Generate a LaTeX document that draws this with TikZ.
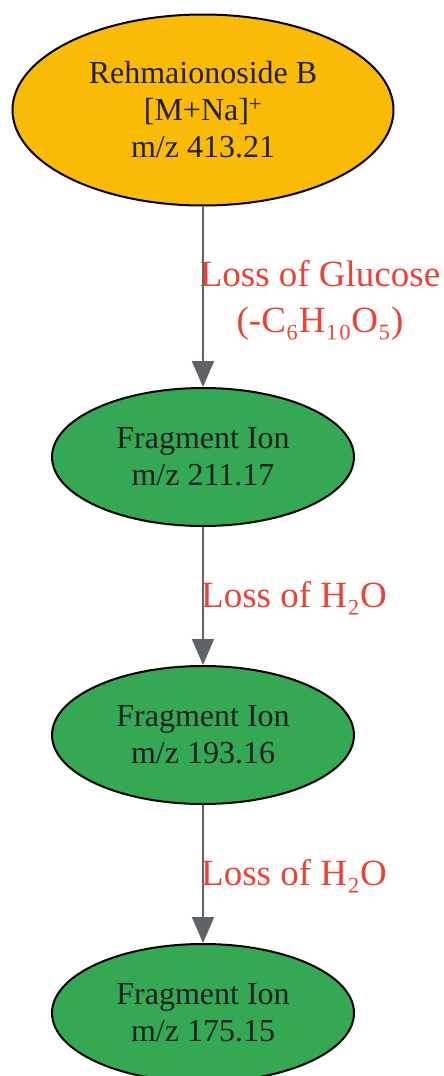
\documentclass[tikz,border=0pt]{standalone}
\usepackage{fontspec}
\setmainfont{Liberation Serif}
\usetikzlibrary{shapes.geometric,arrows.meta}
\definecolor{gold}{HTML}{F9BB06}
\definecolor{ggreen}{HTML}{34A853}
\definecolor{gred}{HTML}{EA4335}
\definecolor{ggray}{HTML}{5F6368}
\definecolor{gtext}{HTML}{202124}
\tikzset{
  ion/.style={ellipse, draw=black, line width=2pt, inner sep=0pt, text=gtext, align=center, font=\fontsize{32}{37}\selectfont},
  parention/.style={ion, fill=gold, minimum width=381pt, minimum height=191pt},
  fragion/.style={ion, fill=ggreen, minimum width=302pt, minimum height=138pt},
  lossarrow/.style={draw=ggray, line width=2pt, -{Triangle[length=26pt,width=22pt]}},
  losslabel/.style={text=gred, align=center, font=\fontsize{37}{46}\selectfont, inner sep=0pt},
}
\begin{document}
\begin{tikzpicture}[x=1pt,y=1pt]
\useasboundingbox (0,0) rectangle (444,-1076);
\node[parention] (p) at (203,-110) {Rehmaionoside B\\{}[M+Na]\textsuperscript{+}\\m/z 413.21};
\node[fragion] (f1) at (203,-457) {Fragment Ion\\m/z 211.17};
\node[fragion] (f2) at (203,-735) {Fragment Ion\\m/z 193.16};
\node[fragion] (f3) at (203,-1013) {Fragment Ion\\m/z 175.15};
\draw[lossarrow] (p.south) -- (f1.north);
\draw[lossarrow] (f1.south) -- (f2.north);
\draw[lossarrow] (f2.south) -- (f3.north);
\node[losslabel] (l1) at (320,-300) {Loss of Glucose\\(-C₆H₁₀O₅)};
\node[losslabel] (l2) at (294,-598) {Loss of H₂O};
\node[losslabel] (l3) at (294,-876) {Loss of H₂O};
\end{tikzpicture}
\end{document}
